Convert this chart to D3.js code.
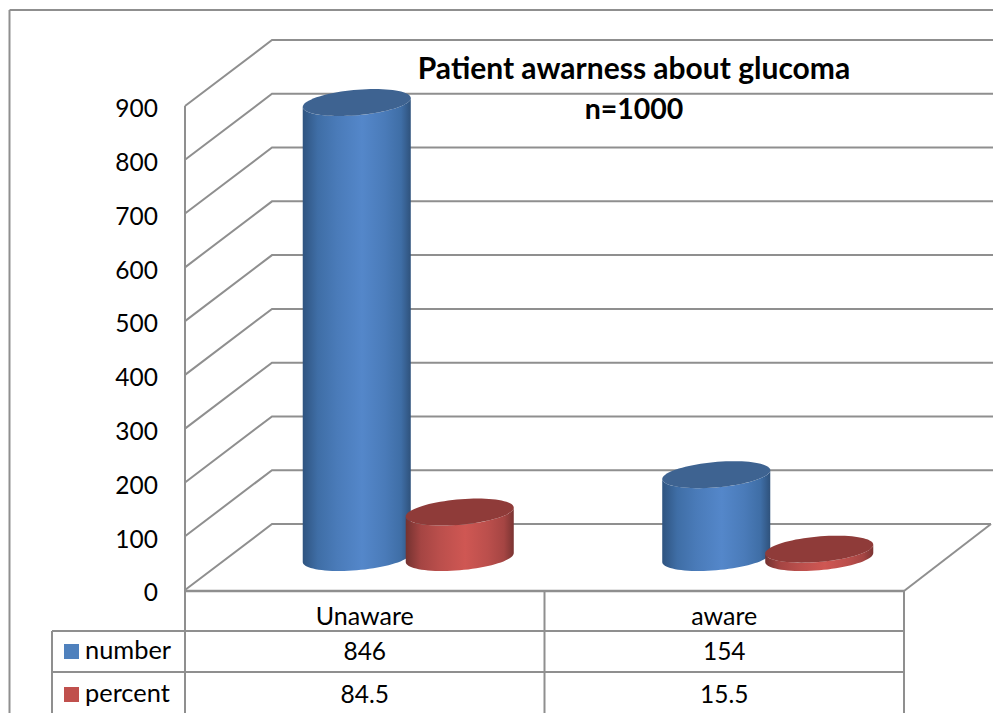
<!DOCTYPE html>
<html>
<head>
<meta charset="utf-8">
<script src="https://cdn.jsdelivr.net/npm/d3@7"></script>
<style>
  html, body { margin: 0; padding: 0; background: #fff; overflow: hidden; }
  text { font-family: Lato, "Open Sans", sans-serif; fill: #000; }
</style>
</head>
<body>
<div id="frame"></div>
<script>
const categories = ['Unaware', 'aware']
const number = [846, 154]
const percent = [84.5, 15.5]
const seriesNames = ['number', 'percent']
const yTicks = [0, 100, 200, 300, 400, 500, 600, 700, 800, 900]
const titleLines = ['Patient awarness about glucoma', 'n=1000']

const width = 993
const height = 713
const plotLeft = 185
const plotRight = 904
const plotBase = 590
const plotTop = 106
const depthX = 87
const depthY = 66
const barGap = 51.5
const ellA = 51
const ellB = 17.8
const ellC = 13.5
const lineColor = '#8f8f8f'

const style = {
  number: { top: '#3e6391', edge: '#2f5480', side: '#3f6ea6', soft: '#4a7bb9', mid: '#5487ca', end: '#2f527c' },
  percent: { top: '#8f3b39', edge: '#743230', side: '#a54543', soft: '#bb4f4c', mid: '#cf5753', end: '#7a3432' }
}

const y = d3.scaleLinear().domain([0, 900]).range([plotBase, plotTop])
const x = d3.scaleBand().domain(categories).range([plotLeft, plotRight])
const series = [
  { name: 'number', values: number, offset: -barGap },
  { name: 'percent', values: percent, offset: barGap }
]

const svg = d3.select('#frame').append('svg')
  .attr('width', width)
  .attr('height', height)
  .style('display', 'block')

const defs = svg.append('defs')
series.forEach(({ name }) => {
  const c = style[name]
  const grad = defs.append('linearGradient').attr('id', `grad-${name}`)
  grad.append('stop').attr('offset', '0%').attr('stop-color', c.edge)
  grad.append('stop').attr('offset', '14%').attr('stop-color', c.side)
  grad.append('stop').attr('offset', '32%').attr('stop-color', c.soft)
  grad.append('stop').attr('offset', '55%').attr('stop-color', c.mid)
  grad.append('stop').attr('offset', '76%').attr('stop-color', c.soft)
  grad.append('stop').attr('offset', '91%').attr('stop-color', c.side)
  grad.append('stop').attr('offset', '100%').attr('stop-color', c.end)
})

function line(x1, y1, x2, y2, w = 2) {
  svg.append('line')
    .attr('x1', x1).attr('y1', y1)
    .attr('x2', x2).attr('y2', y2)
    .attr('stroke', lineColor)
    .attr('stroke-width', w)
}

// outer frame, runs off the picture on the right and at the bottom
line(9.5, 10, 993, 10, 2)
line(9.5, 10, 9.5, 713, 2)

// walls and floor
yTicks.forEach((t) => {
  svg.append('polyline')
    .attr('points', [[plotLeft, y(t)], [plotLeft + depthX, y(t) - depthY], [t === 0 ? plotRight + depthX : width, y(t) - depthY]].join(' '))
    .attr('fill', 'none')
    .attr('stroke', lineColor)
    .attr('stroke-width', 2)
})
line(plotLeft, y(900), plotLeft, 713, 2)
line(plotRight, plotBase + 1, plotRight + depthX, y(0) - depthY, 2)

// table
const rowLines = [591, 631, 672]
line(plotLeft, rowLines[0], plotRight, rowLines[0], 2.5)
line(52, rowLines[1], plotRight, rowLines[1], 2)
line(52, rowLines[2], plotRight, rowLines[2], 2)
line(52, rowLines[1], 52, 713, 2)
line(plotLeft + x.bandwidth(), rowLines[0], plotLeft + x.bandwidth(), 713, 2)
line(plotRight, rowLines[0], plotRight, 713, 2)

// value axis
svg.append('g')
  .attr('transform', 'translate(166,3)')
  .call(d3.axisLeft(y).tickValues(yTicks).tickSize(0).tickPadding(8))
  .call((g) => g.select('.domain').remove())
  .selectAll('text')
  .style('font-family', 'Lato')
  .style('font-size', '24.5px')
  .attr('fill', '#000')

// point on a floor circle seen in oblique view
function ell(cx, cy, t) {
  return [cx + ellA * Math.cos(t) + ellB * Math.sin(t), cy - ellC * Math.sin(t)]
}

function topPath(cx, cy) {
  const pts = d3.range(0, 2 * Math.PI, Math.PI / 40).map((t) => ell(cx, cy, t))
  return d3.line().curve(d3.curveLinearClosed)(pts)
}

function bodyPath(cx, cyTop, cyBottom) {
  const t0 = Math.atan2(ellB, ellA)
  const front = d3.range(0, 41).map((i) => t0 + Math.PI + i * Math.PI / 40)
  const low = front.map((t) => ell(cx, cyBottom, t))
  const high = front.slice().reverse().map((t) => ell(cx, cyTop, t))
  return d3.line().curve(d3.curveLinearClosed)(low.concat(high))
}

// cylinders
categories.forEach((cat, i) => {
  series.forEach(({ name, values, offset }) => {
    const cx = x(cat) + x.bandwidth() / 2 + depthX / 2 + offset
    const cyBottom = y(0) - depthY / 2 + 0.5
    const cyTop = y(values[i]) - depthY / 2 + 0.5
    svg.append('path')
      .attr('d', bodyPath(cx, cyTop, cyBottom))
      .attr('fill', `url(#grad-${name})`)
    svg.append('path')
      .attr('d', topPath(cx, cyTop))
      .attr('fill', style[name].top)
  })
})

// table text
function label(str, tx, ty, size, anchor = 'middle', weight = 400) {
  svg.append('text')
    .attr('x', tx)
    .attr('y', ty)
    .attr('text-anchor', anchor)
    .attr('font-size', size)
    .attr('font-weight', weight)
    .text(str)
}

const centers = categories.map((c) => x(c) + x.bandwidth() / 2)
categories.forEach((c, i) => {
  label(c, centers[i], 625, 25)
  label(number[i], centers[i], 660, 24.5)
  label(percent[i], centers[i], 703, 24.5)
})

seriesNames.forEach((name, i) => {
  const ty = [644, 687][i]
  svg.append('rect')
    .attr('x', 64)
    .attr('y', ty)
    .attr('width', 15)
    .attr('height', 15)
    .attr('fill', i === 0 ? '#4f81bd' : '#c0504d')
  label(name, 85, ty + 15, 25.4, 'start')
})

// title
label(titleLines[0], 634, 79, 30, 'middle', 700)
label(titleLines[1], 634, 119, 28.5, 'middle', 700)
</script>
</body>
</html>
